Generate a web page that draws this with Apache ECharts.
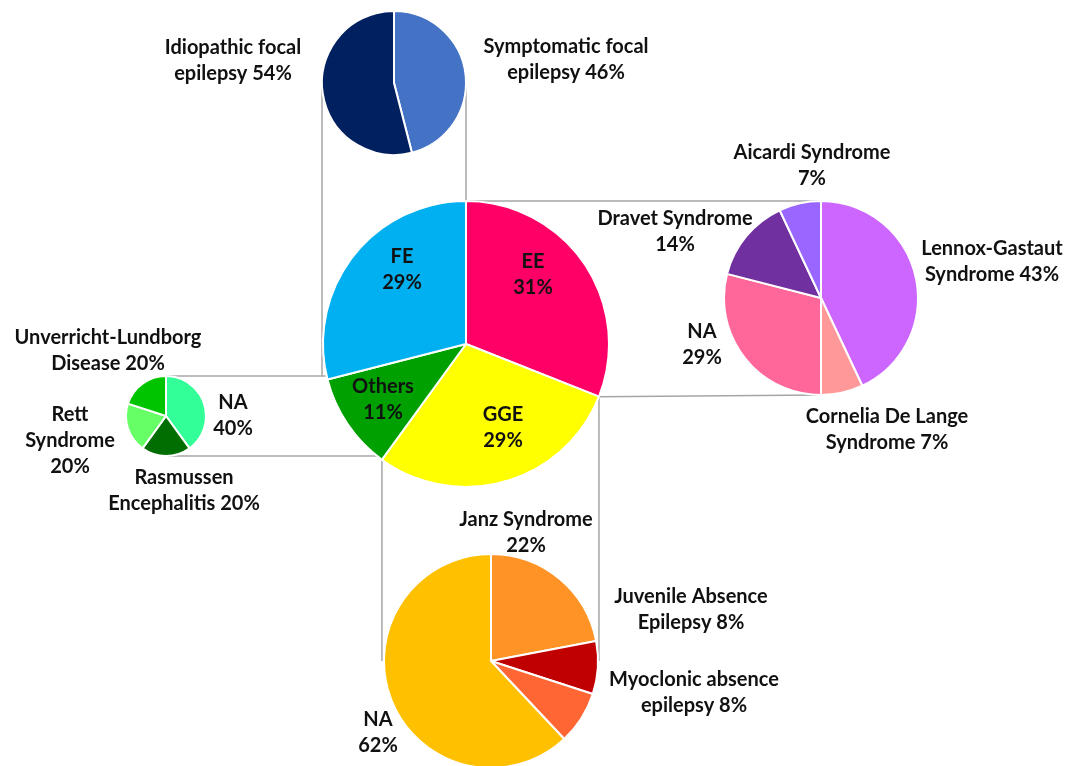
<!DOCTYPE html>
<html>
<head>
<meta charset="utf-8">
<script src="https://cdn.jsdelivr.net/npm/echarts@6/dist/echarts.min.js"></script>
<style>
  html, body { margin: 0; padding: 0; background: #ffffff; }
  #chart { width: 1070px; height: 766px; }
</style>
</head>
<body>
<div id="chart"></div>
<script>
// Epilepsy types (%) with a breakdown of each type into syndromes (%)
const mainCategories = ['EE', 'GGE', 'Others', 'FE'];
const mainValues = [31, 29, 11, 29];

const focalCategories = ['Symptomatic focal\nepilepsy', 'Idiopathic focal\nepilepsy'];
const focalValues = [46, 54];

const eeCategories = ['Lennox-Gastaut\nSyndrome', 'Cornelia De Lange\nSyndrome', 'NA', 'Dravet Syndrome', 'Aicardi Syndrome'];
const eeValues = [43, 7, 29, 14, 7];

const otherCategories = ['NA', 'Rasmussen\nEncephalitis', 'Rett\nSyndrome', 'Unverricht-Lundborg\nDisease'];
const otherValues = [40, 20, 20, 20];

const ggeCategories = ['Janz Syndrome', 'Juvenile Absence\nEpilepsy', 'Myoclonic absence\nepilepsy', 'NA'];
const ggeValues = [22, 8, 8, 62];

// text joining each name to its percentage
const mainSeps = ['\n', '\n', '\n', '\n'];
const focalSeps = [' ', ' '];
const eeSeps = [' ', ' ', '\n', '\n', '\n'];
const otherSeps = ['\n', ' ', '\n', ' '];
const ggeSeps = ['\n', ' ', ' ', '\n'];

// slice colours
const mainColors = ['#FF0066', '#FFFF00', '#00A000', '#00B0F0'];
const focalColors = ['#4472C4', '#002060'];
const eeColors = ['#CC66FF', '#FF9999', '#FF6699', '#7030A0', '#9966FF'];
const otherColors = ['#33FF99', '#006E00', '#66FF66', '#00C400'];
const ggeColors = ['#FF9326', '#C00000', '#FF6633', '#FFC000'];

// pie placement (pixels)
const MAIN = { cx: 466, cy: 344, r: 143 };
const FOCAL = { cx: 394, cy: 83, r: 72 };
const EESUB = { cx: 821, cy: 298, r: 97 };
const OTHER = { cx: 166, cy: 416, r: 40 };
const GGESUB = { cx: 491, cy: 661, r: 107 };

// label anchor points (centre of each text block)
const labelSpots = [
  [[533, 275], [503, 428], [383, 400], [402, 270]],
  [[566, 60], [233, 61]],
  [[992, 262], [887, 430], [702, 345], [675, 232], [812, 166]],
  [[233, 416], [184, 491], [70, 441], [108, 351]],
  [[526, 533], [691, 610], [694, 693], [378, 733]]
];

const FONT = { fontFamily: 'Lato', fontWeight: 'bold', fontSize: 20, lineHeight: 26, color: '#111111' };

function pieSeries(geo, cats, vals, seps, colors) {
  return {
    type: 'pie',
    center: [geo.cx, geo.cy],
    radius: [0, geo.r],
    startAngle: 90,
    clockwise: true,
    avoidLabelOverlap: false,
    silent: true,
    itemStyle: { borderColor: '#ffffff', borderWidth: 2 },
    label: Object.assign({
      show: true,
      position: 'outside',
      formatter: p => p.name + seps[p.dataIndex] + p.value + '%'
    }, FONT),
    labelLine: { show: false },
    labelLayout: params => {
      const s = labelSpots[params.seriesIndex][params.dataIndex];
      return { x: s[0], y: s[1], align: 'center', verticalAlign: 'middle' };
    },
    data: cats.map((c, i) => ({ name: c, value: vals[i], itemStyle: { color: colors[i] } }))
  };
}

// point on the main pie rim where slice i ends (angles clockwise from 12 o'clock)
function mainBoundary(i) {
  const total = mainValues.reduce((a, b) => a + b, 0);
  let cum = 0;
  for (let k = 0; k <= i; k++) cum += mainValues[k];
  const th = cum / total * 2 * Math.PI;
  return [MAIN.cx + MAIN.r * Math.sin(th), MAIN.cy - MAIN.r * Math.cos(th)];
}

const pEG = mainBoundary(0); // EE | GGE
const pGO = mainBoundary(1); // GGE | Others
const pOF = mainBoundary(2); // Others | FE

const connectors = [
  // focal breakdown -> FE slice
  [[FOCAL.cx - FOCAL.r, FOCAL.cy], [FOCAL.cx - FOCAL.r, OTHER.cy - OTHER.r]],
  [[FOCAL.cx + FOCAL.r, FOCAL.cy], [MAIN.cx, MAIN.cy - MAIN.r]],
  // EE breakdown
  [[MAIN.cx, MAIN.cy - MAIN.r], [EESUB.cx, EESUB.cy - EESUB.r]],
  [pEG, [EESUB.cx, EESUB.cy + EESUB.r]],
  // Others breakdown
  [[OTHER.cx, OTHER.cy - OTHER.r], [pOF[0], OTHER.cy - OTHER.r]],
  [[OTHER.cx, OTHER.cy + OTHER.r], [pGO[0], OTHER.cy + OTHER.r]],
  // GGE breakdown
  [[pGO[0], OTHER.cy + OTHER.r], [pGO[0], GGESUB.cy]],
  [pEG, [pEG[0], GGESUB.cy]]
];

const chart = echarts.init(document.getElementById('chart'), null, { renderer: 'canvas' });
chart.setOption({
  backgroundColor: '#ffffff',
  animation: false,
  graphic: connectors.map(pts => ({
    type: 'polyline',
    z: 0,
    silent: true,
    shape: { points: pts },
    style: { stroke: '#A6A6A6', lineWidth: 1.5, fill: null }
  })),
  series: [
    pieSeries(MAIN, mainCategories, mainValues, mainSeps, mainColors),
    pieSeries(FOCAL, focalCategories, focalValues, focalSeps, focalColors),
    pieSeries(EESUB, eeCategories, eeValues, eeSeps, eeColors),
    pieSeries(OTHER, otherCategories, otherValues, otherSeps, otherColors),
    pieSeries(GGESUB, ggeCategories, ggeValues, ggeSeps, ggeColors)
  ]
});
</script>
</body>
</html>
